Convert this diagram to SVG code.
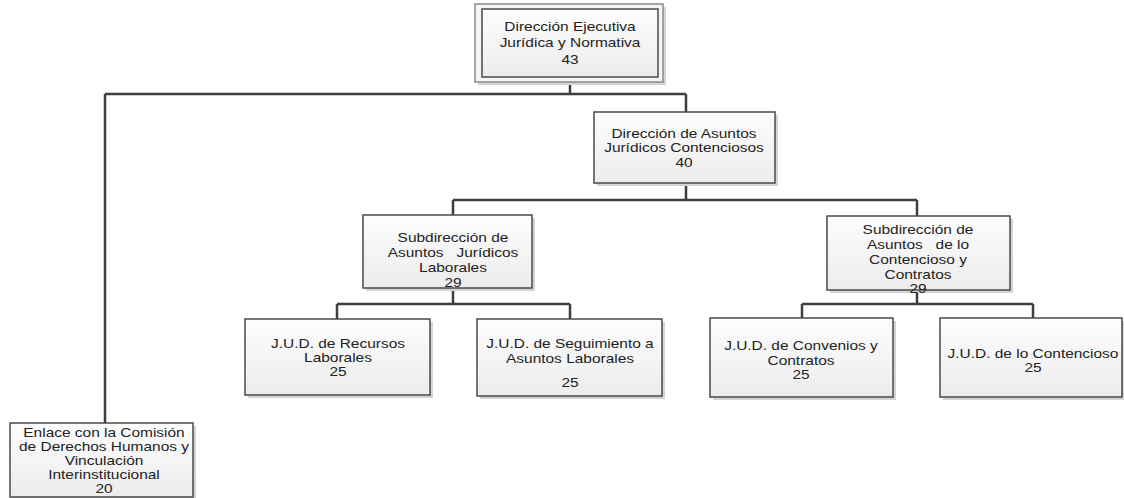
<svg xmlns="http://www.w3.org/2000/svg" width="1124" height="498" viewBox="0 0 1124 498">
  <defs>
    <linearGradient id="boxFill" x1="0" y1="0" x2="0" y2="1">
      <stop offset="0" stop-color="#fdfdfd"/>
      <stop offset="1" stop-color="#ececec"/>
    </linearGradient>
    <style>
      .shadow { fill: #d4d4d4; }
      .box { fill: url(#boxFill); stroke: #4a4a4a; stroke-width: 1.5; }
      .outer { fill: #f4f4f4; stroke: #8a8a8a; stroke-width: 1.5; }
      .wire { fill: none; stroke: #3f3f3f; stroke-width: 2.5; }
      text { font-family: "Liberation Sans", Arial, sans-serif; font-size: 13px; fill: #222; text-anchor: middle; white-space: pre; }
    </style>
  </defs>
  <rect width="1124" height="498" fill="#ffffff"/>

  <!-- connectors -->
  <g id="connectors">
    <path class="wire" d="M570 82 V94 M105 94 H686 M105 94 V423 M686 94 V112"/>
    <path class="wire" d="M686 183 V200 M453 200 H917 M453 200 V215 M917 200 V216"/>
    <path class="wire" d="M453 288 V304 M337 304 H570 M337 304 V319 M570 304 V319"/>
    <path class="wire" d="M917 290 V304 M802 304 H1033 M802 304 V318 M1033 304 V318"/>
  </g>

  <!-- labels are set in a narrow size and widened horizontally -->
  <g id="n-direccion-ejecutiva">
    <rect class="shadow" x="478" y="7" width="188" height="78"/>
    <rect class="outer" x="475" y="4" width="188" height="78"/>
    <rect class="box" x="482" y="9" width="176" height="68"/>
    <g transform="translate(570 0) scale(1.19 1)">
      <text x="0" y="31">Dirección Ejecutiva</text>
      <text x="0" y="47">Jurídica y Normativa</text>
      <text x="0" y="64">43</text>
    </g>
  </g>

  <g id="n-asuntos-contenciosos">
    <rect class="shadow" x="597" y="115" width="181" height="71"/>
    <rect class="box" x="594" y="112" width="181" height="71"/>
    <g transform="translate(684 0) scale(1.19 1)">
      <text x="0" y="138">Dirección de Asuntos</text>
      <text x="0" y="152.5">Jurídicos Contenciosos</text>
      <text x="0" y="167">40</text>
    </g>
  </g>

  <g id="n-sub-laborales">
    <rect class="shadow" x="366" y="218" width="169" height="73"/>
    <rect class="box" x="363" y="215" width="169" height="73"/>
    <g transform="translate(453 0) scale(1.19 1)">
      <text x="0" y="242">Subdirección de</text>
      <text x="0" y="257">Asuntos   Jurídicos</text>
      <text x="0" y="272">Laborales</text>
      <text x="0" y="287">29</text>
    </g>
  </g>

  <g id="n-sub-contencioso">
    <rect class="shadow" x="830" y="219" width="183" height="74"/>
    <rect class="box" x="827" y="216" width="183" height="74"/>
    <g transform="translate(918 0) scale(1.19 1)">
      <text x="0" y="234">Subdirección de</text>
      <text x="0" y="249">Asuntos   de lo</text>
      <text x="0" y="264">Contencioso y</text>
      <text x="0" y="279">Contratos</text>
      <text x="0" y="293">29</text>
    </g>
  </g>

  <g id="n-jud-recursos">
    <rect class="shadow" x="248" y="322" width="185" height="76"/>
    <rect class="box" x="245" y="319" width="185" height="76"/>
    <g transform="translate(338 0) scale(1.19 1)">
      <text x="0" y="348">J.U.D. de Recursos</text>
      <text x="0" y="362">Laborales</text>
      <text x="0" y="376">25</text>
    </g>
  </g>

  <g id="n-jud-seguimiento">
    <rect class="shadow" x="480" y="322" width="185" height="77"/>
    <rect class="box" x="477" y="319" width="185" height="77"/>
    <g transform="translate(570 0) scale(1.19 1)">
      <text x="0" y="348">J.U.D. de Seguimiento a</text>
      <text x="0" y="363">Asuntos Laborales</text>
      <text x="0" y="387">25</text>
    </g>
  </g>

  <g id="n-jud-convenios">
    <rect class="shadow" x="713" y="321" width="183" height="79"/>
    <rect class="box" x="710" y="318" width="183" height="79"/>
    <g transform="translate(801 0) scale(1.19 1)">
      <text x="0" y="350">J.U.D. de Convenios y</text>
      <text x="0" y="365">Contratos</text>
      <text x="0" y="379">25</text>
    </g>
  </g>

  <g id="n-jud-contencioso">
    <rect class="shadow" x="943" y="321" width="182" height="79"/>
    <rect class="box" x="940" y="318" width="182" height="79"/>
    <g transform="translate(1033 0) scale(1.19 1)">
      <text x="0" y="358">J.U.D. de lo Contencioso</text>
      <text x="0" y="372">25</text>
    </g>
  </g>

  <g id="n-enlace">
    <rect class="shadow" x="13" y="426" width="183" height="73"/>
    <rect class="box" x="10" y="423" width="183" height="74"/>
    <g transform="translate(104 0) scale(1.19 1)">
      <text x="0" y="437.5">Enlace con la Comisión</text>
      <text x="0" y="451.5">de Derechos Humanos y</text>
      <text x="0" y="465">Vinculación</text>
      <text x="0" y="479">Interinstitucional</text>
      <text x="0" y="493">20</text>
    </g>
  </g>
</svg>
